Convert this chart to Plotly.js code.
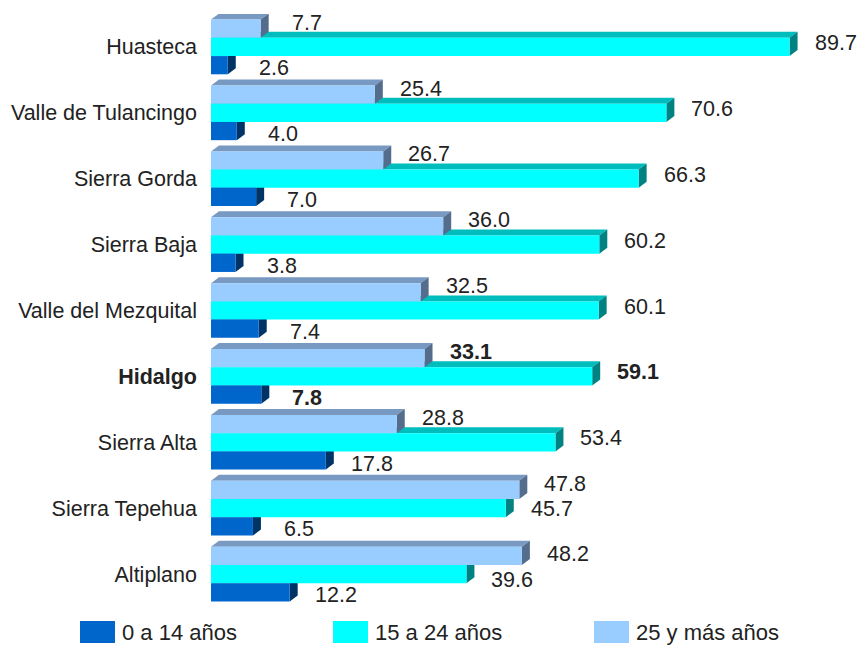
<!DOCTYPE html>
<html>
<head>
<meta charset="utf-8">
<script src="https://cdn.plot.ly/plotly-3.0.1.min.js"></script>
<style>
  body { margin: 0; background: #fff; }
  #chart { width: 858px; height: 647px; }
</style>
</head>
<body>
<div id="chart"></div>
<script>
// regions, top to bottom
var regions = ['Huasteca', 'Valle de Tulancingo', 'Sierra Gorda', 'Sierra Baja',
    'Valle del Mezquital', 'Hidalgo', 'Sierra Alta', 'Sierra Tepehua', 'Altiplano'];
var age0to14 = [2.6, 4.0, 7.0, 3.8, 7.4, 7.8, 17.8, 6.5, 12.2];
var age15to24 = [89.7, 70.6, 66.3, 60.2, 60.1, 59.1, 53.4, 45.7, 39.6];
var age25plus = [7.7, 25.4, 26.7, 36.0, 32.5, 33.1, 28.8, 47.8, 48.2];
var seriesNames = ['0 a 14 años', '15 a 24 años', '25 y más años'];
var boldRegion = 'Hidalgo';

// styles
var frontColors = ['#0066CC', '#00FFFF', '#99CCFF'];
var topColors = ['#004C99', '#00BDBD', '#7899C2'];
var sideColors = ['#003366', '#008282', '#546D8C'];
var labelYShift = [-3, 4, 6];
// extra label shifts (px) where labels would collide
var labelNudge = { 'Sierra Tepehua': [0, -5, 0], 'Altiplano': [0, -10, -4] };

var W = 858, H = 647;
var mL = 211, mR = 2, mT = 14, mB = 40;
var xMax = 100;
var bargap = 0.17;
var plotW = W - mL - mR, plotH = H - mT - mB;
var depthPx = 8, risePx = 6;
var dx = depthPx * xMax / plotW;
var dy = risePx * regions.length / plotH;
var barW = (1 - bargap) / 3;

var values = [age0to14, age15to24, age25plus];
// group position: 25+ on top, then 15-24, then 0-14 (axis is reversed)
var slot = [1, 0, -1];

var txtFont = 'Liberation Sans, Arial, sans-serif';
var txtColor = '#222222';

var traces = [];
for (var k = 2; k >= 0; k--) {
    traces.push({
        type: 'bar',
        orientation: 'h',
        name: seriesNames[k],
        x: values[k],
        y: regions,
        marker: { color: frontColors[k], line: { width: 0 } },
        hoverinfo: 'x+name'
    });
}

var shapes = [];
var annotations = [];
regions.forEach(function (reg, i) {
    for (var k = 0; k < 3; k++) {
        var v = values[k][i];
        var c = i + slot[k] * barW;
        var top = c - barW / 2, bot = c + barW / 2;
        // top face
        shapes.push({
            type: 'path', xref: 'x', yref: 'y2', layer: 'below',
            path: 'M 0,' + top + ' L ' + v + ',' + top + ' L ' + (v + dx) + ',' + (top - dy) +
                ' L ' + dx + ',' + (top - dy) + ' Z',
            fillcolor: topColors[k], line: { width: 0 }
        });
        // right side face
        shapes.push({
            type: 'path', xref: 'x', yref: 'y2', layer: 'below',
            path: 'M ' + v + ',' + top + ' L ' + (v + dx) + ',' + (top - dy) + ' L ' + (v + dx) + ',' +
                (bot - dy) + ' L ' + v + ',' + bot + ' Z',
            fillcolor: sideColors[k], line: { width: 0 }
        });
        var t = v.toFixed(1);
        if (reg === boldRegion) t = '<b>' + t + '</b>';
        var nudge = labelNudge[reg] ? labelNudge[reg][k] : 0;
        annotations.push({
            x: v, y: c, xref: 'x', yref: 'y2',
            text: t, showarrow: false,
            xanchor: 'center', yanchor: 'middle',
            xshift: 46, yshift: labelYShift[k] + nudge,
            font: { family: txtFont, size: 21.5, color: txtColor }
        });
    }
});

// legend drawn by hand so the swatches can be large
var legSwatchX = [80, 333, 594];
var legTop = 621, legBot = 643;
function px2x(px) { return (px - mL) / plotW; }
function px2y(py) { return (H - mB - py) / plotH; }
for (var k = 0; k < 3; k++) {
    shapes.push({
        type: 'rect', xref: 'paper', yref: 'paper',
        x0: px2x(legSwatchX[k]), x1: px2x(legSwatchX[k] + 35),
        y0: px2y(legBot), y1: px2y(legTop),
        fillcolor: frontColors[k], line: { width: 0 }
    });
    annotations.push({
        xref: 'paper', yref: 'paper',
        x: px2x(legSwatchX[k] + 40), y: px2y((legTop + legBot) / 2 + 1),
        xanchor: 'left', yanchor: 'middle', showarrow: false,
        text: seriesNames[k],
        font: { family: txtFont, size: 22, color: txtColor }
    });
}

var ticktext = regions.map(function (r) { return r === boldRegion ? '<b>' + r + '</b>' : r; });

var layout = {
    width: W, height: H,
    margin: { l: mL, r: mR, t: mT, b: mB },
    paper_bgcolor: '#ffffff',
    plot_bgcolor: '#ffffff',
    barmode: 'group',
    bargap: bargap,
    bargroupgap: 0,
    showlegend: false,
    font: { family: txtFont, size: 21.5, color: txtColor },
    xaxis: { range: [0, xMax], visible: false, fixedrange: true },
    yaxis: {
        type: 'category',
        categoryorder: 'array', categoryarray: regions,
        range: [regions.length - 0.5, -0.5],
        tickmode: 'array', tickvals: regions, ticktext: ticktext,
        ticks: '', ticklabelstandoff: 13,
        showgrid: false, zeroline: false, showline: false,
        tickfont: { family: txtFont, size: 21.5, color: txtColor }
    },
    yaxis2: {
        overlaying: 'y', range: [regions.length - 0.5, -0.5],
        visible: false, fixedrange: true
    },
    shapes: shapes,
    annotations: annotations
};

Plotly.newPlot('chart', traces, layout, { displayModeBar: false, staticPlot: true });
</script>
</body>
</html>
